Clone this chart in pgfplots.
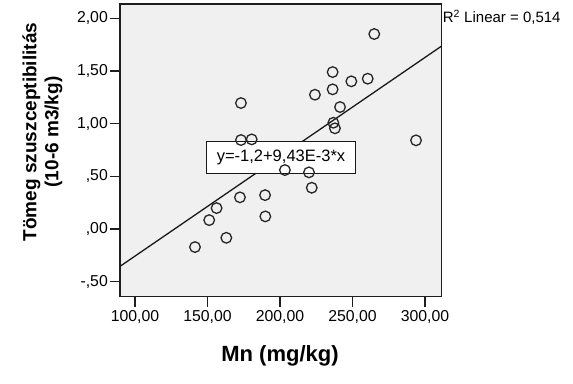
\documentclass[border=0pt]{standalone}
\usepackage{pgfplots}
\pgfplotsset{compat=1.18}
\usepackage{fontspec}
\setmainfont{Liberation Sans}
\definecolor{plotbg}{RGB}{240,240,240}
\definecolor{frame}{RGB}{30,30,30}
\begin{document}
\begin{tikzpicture}
\path[use as bounding box] (0,0) rectangle (573bp,384bp);
\begin{axis}[
  at={(120bp,87.3bp)}, anchor=south west,
  scale only axis, width=321.7bp, height=292.7bp,
  xmin=89.7, xmax=311.5, ymin=-0.642, ymax=2.136,
  axis background/.style={fill=plotbg},
  axis line style={frame, line width=1.3bp},
  xtick={100,150,200,250,300},
  xticklabels={{100,00},{150,00},{200,00},{250,00},{300,00}},
  ytick={-0.5,0,0.5,1,1.5,2},
  yticklabels={{-,50},{,00},{,50},{1,00},{1,50},{2,00}},
  tick align=outside,
  xtick pos=bottom, ytick pos=left,
  major tick length=10bp,
  tick style={frame, line width=1.3bp},
  ticklabel style={font=\fontsize{15.8bp}{18bp}\selectfont, text=black},
  xticklabel style={inner sep=1bp, yshift=-3bp},
  yticklabel style={inner sep=1bp, xshift=-1bp},
]
\addplot[only marks, mark=o, mark size=5.3bp, mark options={line width=1.3bp, draw=black!85}]
  coordinates {
  (265.0,1.851) (236.3,1.490) (249.2,1.402) (260.5,1.427) (236.3,1.326)
  (224.1,1.275) (173.1,1.196) (241.4,1.158) (236.8,1.009) (237.9,0.956)
  (293.8,0.842) (173.1,0.845) (180.5,0.851) (203.4,0.560) (220.0,0.538)
  (221.9,0.392) (172.4,0.301) (189.7,0.322) (156.3,0.199) (151.2,0.085)
  (189.9,0.120) (163.0,-0.083) (141.4,-0.171)
  };
\addplot[black!90, line width=1.3bp, no marks] coordinates {(89.7,-0.3541) (311.5,1.7374)};
\node[draw=black!90, line width=1.3bp, fill=white, inner sep=0pt, minimum width=149bp, minimum height=31.6bp,
  font=\fontsize{16.5bp}{19bp}\selectfont] at (axis cs:200.7,0.678) {y=-1,2+9,43E-3*x};
\end{axis}
\node[rotate=90, align=center, font=\fontsize{19bp}{22bp}\selectfont\bfseries] at (42.5bp,252bp)
  {Tömeg szuszceptibilitás\\(10-6 m3/kg)};
\node[anchor=base, inner sep=0pt, font=\fontsize{22bp}{26bp}\selectfont\bfseries] at (280bp,22.3bp) {Mn (mg/kg)};
\node[anchor=base west, inner sep=0pt, font=\fontsize{15bp}{18bp}\selectfont] at (442.7bp,361bp) {R\textsuperscript{2} Linear = 0,514};
\end{tikzpicture}
\end{document}
